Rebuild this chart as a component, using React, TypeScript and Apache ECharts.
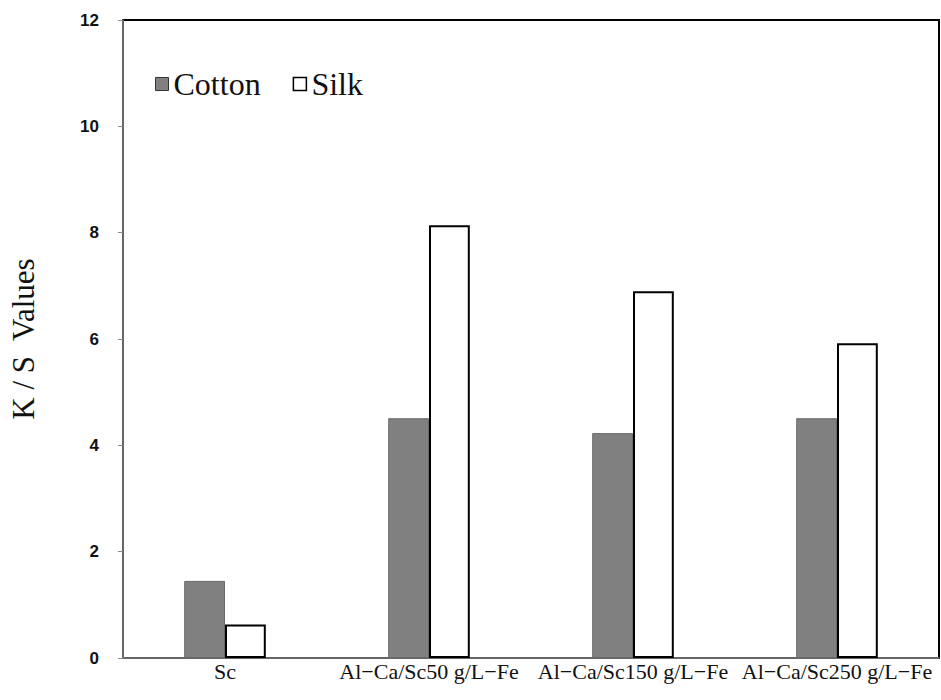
import React, { useEffect, useRef } from "react";
import * as echarts from "echarts";

const categories = ["Sc", "Al−Ca/Sc50 g/L−Fe", "Al−Ca/Sc150 g/L−Fe", "Al−Ca/Sc250 g/L−Fe"];
const cottonValues = [1.45, 4.51, 4.23, 4.51];
const silkValues = [0.63, 8.14, 6.9, 5.92];
const yTicks = { min: 0, max: 12, interval: 2 };

export default function App() {
  const ref = useRef<HTMLDivElement>(null);
  useEffect(() => {
    if (!ref.current) return;
    const chart = echarts.init(ref.current, undefined, { renderer: "svg" });
    const serif = "Liberation Serif, serif";
    chart.setOption({
      animation: false,
      backgroundColor: "#ffffff",
      textStyle: { fontFamily: serif },
      grid: {
        left: 117,
        right: 2,
        top: 20,
        bottom: 42,
        show: true,
        borderColor: "#000000",
        borderWidth: 2,
        backgroundColor: "transparent",
      },
      legend: {
        left: 150,
        top: 63,
        itemWidth: 13,
        itemHeight: 13,
        itemGap: 32,
        textStyle: { fontFamily: serif, fontSize: 32, color: "#111" },
        data: [
          { name: "Cotton", icon: "rect", itemStyle: { color: "#808080", borderColor: "#333", borderWidth: 1 } },
          { name: "Silk", icon: "rect", itemStyle: { color: "#ffffff", borderColor: "#000", borderWidth: 1.5 } },
        ],
      },
      xAxis: {
        type: "category",
        data: categories,
        axisLine: { lineStyle: { color: "#888888", width: 1.5 } },
        axisTick: { show: false },
        axisLabel: { fontFamily: serif, fontSize: 22, color: "#111", margin: 2, interval: 0 },
      },
      yAxis: {
        type: "value",
        min: yTicks.min,
        max: yTicks.max,
        interval: yTicks.interval,
        name: "K / S  Values",
        nameLocation: "middle",
        nameGap: 84,
        nameTextStyle: { fontFamily: serif, fontSize: 31, color: "#111" },
        splitLine: { show: false },
        axisLine: { show: true, lineStyle: { color: "#888888", width: 1.5 } },
        axisTick: { show: true, inside: false, length: 5, lineStyle: { color: "#888888" } },
        axisLabel: {
          fontFamily: "Liberation Sans, sans-serif",
          fontWeight: "bold",
          fontSize: 17,
          color: "#111",
          margin: 24,
        },
      },
      series: [
        {
          name: "Cotton",
          type: "bar",
          data: cottonValues,
          barWidth: "20%",
          barGap: "0%",
          itemStyle: { color: "#808080", borderColor: "#6a6a6a", borderWidth: 1 },
        },
        {
          name: "Silk",
          type: "bar",
          data: silkValues,
          barWidth: "20%",
          itemStyle: { color: "#ffffff", borderColor: "#000000", borderWidth: 2 },
        },
      ],
    });
    return () => chart.dispose();
  }, []);
  return (
    <div
      ref={ref}
      style={{ position: "absolute", left: 0, top: 0, width: 941, height: 700, background: "#fff" }}
    />
  );
}
